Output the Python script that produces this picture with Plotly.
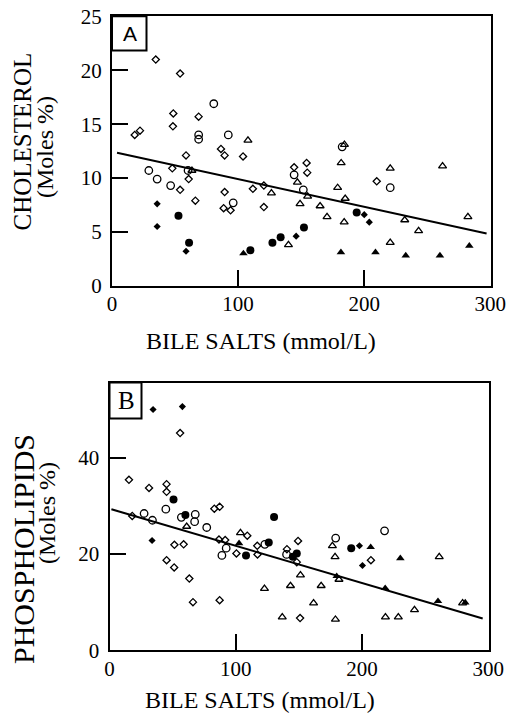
import plotly.graph_objects as go

# ---------------- Panel A: cholesterol (Moles %) vs bile salts (mmol/L) ----------------
a_open_diamond_x = [34.7, 54.0, 48.6, 68.7, 48.3, 18.0, 22.2, 58.7, 86.4, 89.3, 103.9, 47.8, 60.8, 54.0,
                    66.1, 89.3, 88.5, 94.0, 111.7, 120.4, 120.4, 144.4, 154.3, 154.8, 209.9]
a_open_diamond_y = [21.0, 19.7, 16.0, 15.7, 14.8, 14.0, 14.4, 12.1, 12.7, 12.1, 12.0, 10.9, 9.9, 8.9,
                    7.9, 8.7, 7.2, 7.0, 9.0, 9.3, 7.3, 11.0, 11.4, 10.5, 9.7]
a_open_circle_x = [80.7, 68.7, 68.7, 92.2, 29.2, 35.8, 46.5, 60.3, 96.1, 144.4, 151.7, 182.5, 220.6]
a_open_circle_y = [16.9, 14.0, 13.6, 14.0, 10.7, 9.9, 9.3, 10.7, 7.7, 10.3, 8.9, 12.9, 9.1]
a_open_tri_x = [107.8, 63.4, 126.4, 147.0, 155.1, 149.1, 139.9, 184.3, 181.7, 178.9, 184.9, 165.0, 170.5,
                184.1, 220.6, 220.6, 232.1, 243.1, 262.1, 282.2]
a_open_tri_y = [13.5, 10.7, 8.6, 9.6, 8.3, 7.6, 3.8, 13.1, 11.4, 9.1, 8.1, 7.4, 6.4,
                5.9, 10.9, 4.0, 6.1, 5.1, 11.1, 6.4]
a_fill_diamond_x = [35.8, 35.8, 58.7, 146.0, 200.0, 204.0]
a_fill_diamond_y = [7.6, 5.5, 3.2, 4.6, 6.6, 5.9]
a_fill_circle_x = [52.7, 61.1, 109.7, 127.2, 133.7, 152.2, 194.0]
a_fill_circle_y = [6.5, 4.0, 3.3, 4.0, 4.5, 5.4, 6.8]
a_fill_tri_x = [104.2, 181.5, 208.9, 232.9, 260.0, 283.3]
a_fill_tri_y = [3.0, 3.1, 3.1, 2.8, 2.8, 3.7]
a_fit_x = [4.0, 297.0]
a_fit_y = [12.35, 4.85]

# ---------------- Panel B: phospholipids (Moles %) vs bile salts (mmol/L) ----------------
b_open_diamond_x = [55.9, 15.4, 31.3, 45.2, 45.2, 18.0, 83.0, 87.2, 51.4, 58.7, 45.2, 51.2, 63.2,
                    66.1, 87.2, 86.7, 91.6, 100.5, 109.1, 117.0, 117.2, 140.5, 149.3, 148.3, 150.9, 207.0]
b_open_diamond_y = [45.1, 35.4, 33.7, 34.5, 32.9, 27.9, 29.4, 29.8, 21.9, 22.0, 18.7, 17.2, 14.9,
                    10.0, 10.4, 23.0, 22.9, 20.1, 23.8, 21.7, 19.9, 21.0, 22.7, 18.3, 6.7, 18.7]
b_open_circle_x = [27.4, 34.0, 44.6, 56.9, 67.9, 67.4, 77.0, 92.4, 89.0, 123.0, 140.2, 179.1, 217.8]
b_open_circle_y = [28.4, 27.0, 29.3, 27.6, 28.2, 26.7, 25.5, 21.2, 19.7, 22.0, 19.9, 23.3, 24.8]
b_open_tri_x = [61.1, 103.7, 176.5, 178.6, 181.7, 151.2, 122.7, 143.3, 167.6, 161.6, 136.8, 178.9,
                218.5, 228.7, 241.5, 261.1, 279.6]
b_open_tri_y = [25.7, 24.4, 21.7, 19.4, 14.7, 15.6, 12.8, 13.4, 13.4, 9.8, 6.9, 6.4,
                6.9, 6.9, 8.4, 19.4, 9.8]
b_fill_diamond_x = [34.5, 57.7, 33.7, 197.9, 200.3]
b_fill_diamond_y = [50.0, 50.6, 22.8, 21.7, 17.6]
b_fill_circle_x = [50.7, 60.1, 130.3, 126.1, 108.1, 148.3, 145.2, 191.4]
b_fill_circle_y = [31.3, 28.1, 27.7, 22.4, 19.7, 20.1, 19.4, 21.2]
b_fill_tri_x = [102.6, 179.9, 206.8, 230.3, 218.3, 260.1, 281.7]
b_fill_tri_y = [22.2, 15.4, 21.4, 19.1, 12.9, 10.2, 9.9]
b_fit_x = [1.5, 295.5]
b_fit_y = [29.3, 6.6]

x_tick_vals = [0, 100, 200, 300]
x_tick_text = ["0", "100", "200", "300"]
a_y_ticks = [0, 5, 10, 15, 20, 25]
b_y_ticks = [0, 20, 40]

W, H = 508, 716
SERIF = "Liberation Serif"


def px(v):
    return v / W


def py(v):
    return 1 - v / H


fig = go.Figure()

styles = [
    ("diamond-open", 5.5, 1.3),
    ("circle-open", 7.5, 1.3),
    ("triangle-up-open", 7, 1.3),
    ("diamond", 5.5, 0),
    ("circle", 8, 0),
    ("triangle-up", 7.5, 0),
]

panels = [
    ("x", "y", [(a_open_diamond_x, a_open_diamond_y), (a_open_circle_x, a_open_circle_y),
                (a_open_tri_x, a_open_tri_y), (a_fill_diamond_x, a_fill_diamond_y),
                (a_fill_circle_x, a_fill_circle_y), (a_fill_tri_x, a_fill_tri_y)],
     (a_fit_x, a_fit_y)),
    ("x2", "y2", [(b_open_diamond_x, b_open_diamond_y), (b_open_circle_x, b_open_circle_y),
                  (b_open_tri_x, b_open_tri_y), (b_fill_diamond_x, b_fill_diamond_y),
                  (b_fill_circle_x, b_fill_circle_y), (b_fill_tri_x, b_fill_tri_y)],
     (b_fit_x, b_fit_y)),
]

for xa, ya, groups, fit in panels:
    fig.add_trace(go.Scatter(x=fit[0], y=fit[1], mode="lines", xaxis=xa, yaxis=ya,
                             line=dict(color="black", width=2), showlegend=False))
    for (gx, gy), (sym, size, lw) in zip(groups, styles):
        fig.add_trace(go.Scatter(
            x=gx, y=gy, mode="markers", xaxis=xa, yaxis=ya, showlegend=False,
            marker=dict(symbol=sym, size=size, color="black",
                        line=dict(color="black", width=lw)),
        ))

axis_common = dict(
    showline=True, linecolor="black", linewidth=2, mirror=True,
    ticks="inside", ticklen=16, tickwidth=2, tickcolor="black",
    showgrid=False, zeroline=False, automargin=False, ticklabeloverflow="allow",
    tickfont=dict(family=SERIF, size=21, color="black"),
)

fig.update_layout(
    width=W, height=H,
    margin=dict(l=0, r=0, t=0, b=0, pad=0, autoexpand=False),
    paper_bgcolor="white", plot_bgcolor="white",
    showlegend=False,
    xaxis=dict(domain=[px(112), px(491)], range=[0, 300.5], anchor="y",
               tickvals=x_tick_vals, ticktext=x_tick_text, ticklabelstandoff=-2, **axis_common),
    yaxis=dict(domain=[py(285.7), py(16.3)], range=[0, 25.02], anchor="x",
               tickvals=a_y_ticks, ticklabelstandoff=4, **axis_common),
    xaxis2=dict(domain=[px(109.5), px(489)], range=[0, 300.5], anchor="y2",
                tickvals=x_tick_vals, ticktext=x_tick_text, ticklabelstandoff=-2, **axis_common),
    yaxis2=dict(domain=[py(650.3), py(382.5)], range=[0, 55.6], anchor="x2",
                tickvals=b_y_ticks, ticklabelstandoff=4, **axis_common),
)

title_font = dict(family=SERIF, size=24, color="black")
ann = [
    dict(text="BILE SALTS (mmol/L)", x=px(261), y=py(341), font=title_font),
    dict(text="BILE SALTS (mmol/L)", x=px(260), y=py(700), font=title_font),
    dict(text="CHOLESTEROL", x=px(22), y=py(141.5), textangle=-90,
         font=dict(family=SERIF, size=25, color="black")),
    dict(text="(Moles %)", x=px(45), y=py(147), textangle=-90, font=title_font),
    dict(text="PHOSPHOLIPIDS", x=px(23), y=py(549), textangle=-90,
         font=dict(family=SERIF, size=30, color="black")),
    dict(text="(Moles %)", x=px(47), y=py(513), textangle=-90, font=title_font),
    dict(text="A", x=px(130), y=py(34), font=dict(family="Liberation Sans", size=21, color="black")),
    dict(text="B", x=px(126), y=py(400.5), font=dict(family=SERIF, size=25, color="black")),
]
for a in ann:
    a.update(xref="paper", yref="paper", showarrow=False, xanchor="center", yanchor="middle")
    fig.add_annotation(**a)

# label boxes in the upper-left corners
fig.add_shape(type="rect", xref="paper", yref="paper", x0=px(112), x1=px(146.5), y0=py(50.5), y1=py(16.3),
              line=dict(color="black", width=2), fillcolor="rgba(0,0,0,0)")
fig.add_shape(type="rect", xref="paper", yref="paper", x0=px(109.5), x1=px(141.5), y0=py(418.5), y1=py(382.5),
              line=dict(color="black", width=2), fillcolor="rgba(0,0,0,0)")

# remove the browser's default 8 px page margin so the figure fills the window exactly
fig.write_html("out.html", config={"displayModeBar": False},
               post_script="document.body.style.margin='0';")
